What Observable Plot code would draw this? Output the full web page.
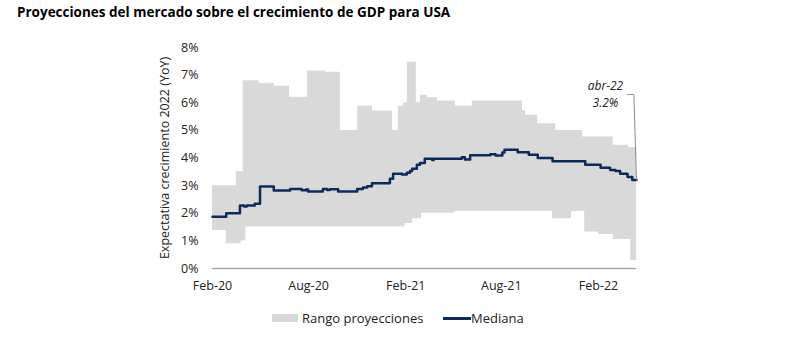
<!DOCTYPE html>
<html><head><meta charset="utf-8">
<script src="https://cdn.jsdelivr.net/npm/d3@7"></script>
<script src="https://cdn.jsdelivr.net/npm/@observablehq/plot@0.6"></script>
<style>
body{margin:0;background:#fff;font-family:"Open Sans",sans-serif;}
#wrap{position:relative;width:800px;height:352px;overflow:hidden;}
#title{position:absolute;left:17px;top:3px;font-weight:700;font-size:13.5px;color:#000;white-space:nowrap;}
#chart{position:absolute;left:0;top:30px;}
.lg{position:absolute;font-size:13px;color:#222;line-height:18px;top:309px;white-space:nowrap;}
.sw{position:absolute;}
</style></head>
<body><div id="wrap">
<div id="title">Proyecciones del mercado sobre el crecimiento de GDP para USA</div>
<div id="chart"></div>
<div class="sw" id="swArea" style="left:272px;top:314px;width:26px;height:8px;background:#d9d9d9;"></div>
<div class="lg" id="lgArea" style="left:302px;">Rango proyecciones</div>
<div class="sw" id="swLine" style="left:443px;top:317px;width:28px;height:2.5px;background:#0b2a5e;"></div>
<div class="lg" id="lgLine" style="left:471px;">Mediana</div>
</div>
<script>
// ---- data ----
const upperDates = ["2020-02-01","2020-03-17","2020-03-30","2020-04-29","2020-05-28","2020-06-26","2020-07-30","2020-09-02","2020-09-30","2020-11-02","2020-11-30","2021-01-07","2021-01-18","2021-01-28","2021-02-04","2021-02-21","2021-03-01","2021-03-14","2021-04-02","2021-05-06","2021-06-07","2021-09-10","2021-09-16","2021-10-09","2021-11-12","2022-01-02","2022-03-01","2022-03-30"];
const upperValues = [3.0,3.5,6.8,6.7,6.6,6.2,7.15,7.1,5.0,5.87,5.7,5.0,5.87,6.0,7.47,6.0,6.27,6.18,6.06,5.87,6.06,5.72,5.55,5.24,5.0,4.76,4.46,4.38];
const lowerDates = ["2020-02-01","2020-02-27","2020-03-26","2020-04-04","2021-01-31","2021-02-14","2021-03-03","2021-05-04","2021-11-06","2021-12-12","2022-01-06","2022-02-01","2022-03-01","2022-04-03"];
const lowerValues = [1.38,0.9,1.0,1.5,1.63,1.8,2.0,2.06,1.8,2.06,1.32,1.23,1.05,0.29];
const medianDates = ["2020-02-01","2020-02-27","2020-03-24","2020-04-01","2020-04-06","2020-04-21","2020-05-01","2020-05-27","2020-06-27","2020-07-19","2020-07-27","2020-07-31","2020-08-28","2020-09-05","2020-09-10","2020-09-26","2020-11-01","2020-11-12","2020-11-20","2020-11-29","2021-01-02","2021-01-08","2021-01-25","2021-02-03","2021-02-09","2021-02-13","2021-02-22","2021-02-28","2021-03-09","2021-03-23","2021-03-26","2021-05-18","2021-05-24","2021-06-03","2021-07-11","2021-07-21","2021-08-03","2021-08-07","2021-09-01","2021-09-22","2021-10-09","2021-11-06","2022-01-07","2022-02-05","2022-02-23","2022-03-05","2022-03-14","2022-03-28","2022-04-06"];
const medianValues = [1.87,2.0,2.28,2.24,2.28,2.34,2.97,2.82,2.88,2.83,2.86,2.79,2.88,2.84,2.87,2.79,2.88,2.93,2.98,3.09,3.25,3.43,3.40,3.47,3.53,3.61,3.76,3.82,3.97,3.93,3.97,4.03,3.95,4.10,4.14,4.09,4.20,4.30,4.21,4.12,4.00,3.88,3.76,3.65,3.57,3.53,3.43,3.31,3.20];
const startDate = "2020-02-01";
const endDate = "2022-04-14";
const xTickDates = ["2020-02-01","2020-08-01","2021-02-01","2021-08-01","2022-02-01"];
const monthNames = ["Jan","Feb","Mar","Apr","May","Jun","Jul","Aug","Sep","Oct","Nov","Dec"];
const yTicks = [0,1,2,3,4,5,6,7,8];
const annotationLines = ["abr-22", "3.2%"];
const annotationLevel = 6.3;
const yLabel = "Expectativa crecimiento 2022 (YoY)";

// ---- build tables ----
const parse = s => new Date(s + "T00:00:00Z");
function stepLookup(dates, values, t) {
  let v = values[0];
  for (let i = 0; i < dates.length; i++) if (parse(dates[i]) <= t) v = values[i];
  return v;
}
const allDates = Array.from(new Set([...upperDates, ...lowerDates, endDate])).sort();
const rangeData = allDates.map(s => {
  const t = parse(s);
  return {date: t, lo: stepLookup(lowerDates, lowerValues, t), hi: stepLookup(upperDates, upperValues, t)};
});
const medianData = medianDates.map((s, i) => ({date: parse(s), v: medianValues[i]}));
medianData.push({date: parse(endDate), v: medianValues[medianValues.length - 1]});
const lastPt = medianData[medianData.length - 1];
const day = 86400000;
const leader = [
  {date: new Date(lastPt.date - 17 * day), v: annotationLevel},
  {date: new Date(lastPt.date - 5 * day), v: annotationLevel},
  {date: lastPt.date, v: lastPt.v}
];

const chart = Plot.plot({
  width: 800, height: 280,
  marginLeft: 212, marginRight: 164, marginTop: 17, marginBottom: 42,
  style: {fontFamily: "'Open Sans', sans-serif", fontSize: "12.5px", color: "#222", background: "transparent"},
  x: {type: "utc", domain: [parse(startDate), parse(endDate)]},
  y: {domain: [0, 8]},
  marks: [
    Plot.areaY(rangeData, {x: "date", y1: "lo", y2: "hi", curve: "step-after", fill: "#d9d9d9"}),
    Plot.ruleY([0], {stroke: "#a6a6a6", strokeWidth: 1.5}),
    Plot.lineY(medianData, {x: "date", y: "v", curve: "step-after", stroke: "#0b2a5e", strokeWidth: 2.5}),
    Plot.line(leader, {x: "date", y: "v", stroke: "#7f7f7f", strokeWidth: 0.9}),
    Plot.text([lastPt], {x: "date", y: () => annotationLevel, text: () => annotationLines[0], dx: -31, dy: -8, textAnchor: "middle", fontStyle: "italic", fontSize: 12, fill: "#222"}),
    Plot.text([lastPt], {x: "date", y: () => annotationLevel, text: () => annotationLines[1], dx: -31, dy: 8.5, textAnchor: "middle", fontStyle: "italic", fontSize: 12, fill: "#222"}),
    Plot.axisX({ticks: xTickDates.map(parse), tickFormat: d => monthNames[d.getUTCMonth()] + "-" + String(d.getUTCFullYear()).slice(2), tickSize: 0, tickPadding: 13, label: null}),
    Plot.axisY({ticks: yTicks, tickFormat: d => d + "%", tickSize: 0, tickPadding: 14, label: yLabel, labelAnchor: "center", labelOffset: 52, labelArrow: "none"})
  ]
});
document.getElementById("chart").appendChild(chart);
</script>
</body></html>
